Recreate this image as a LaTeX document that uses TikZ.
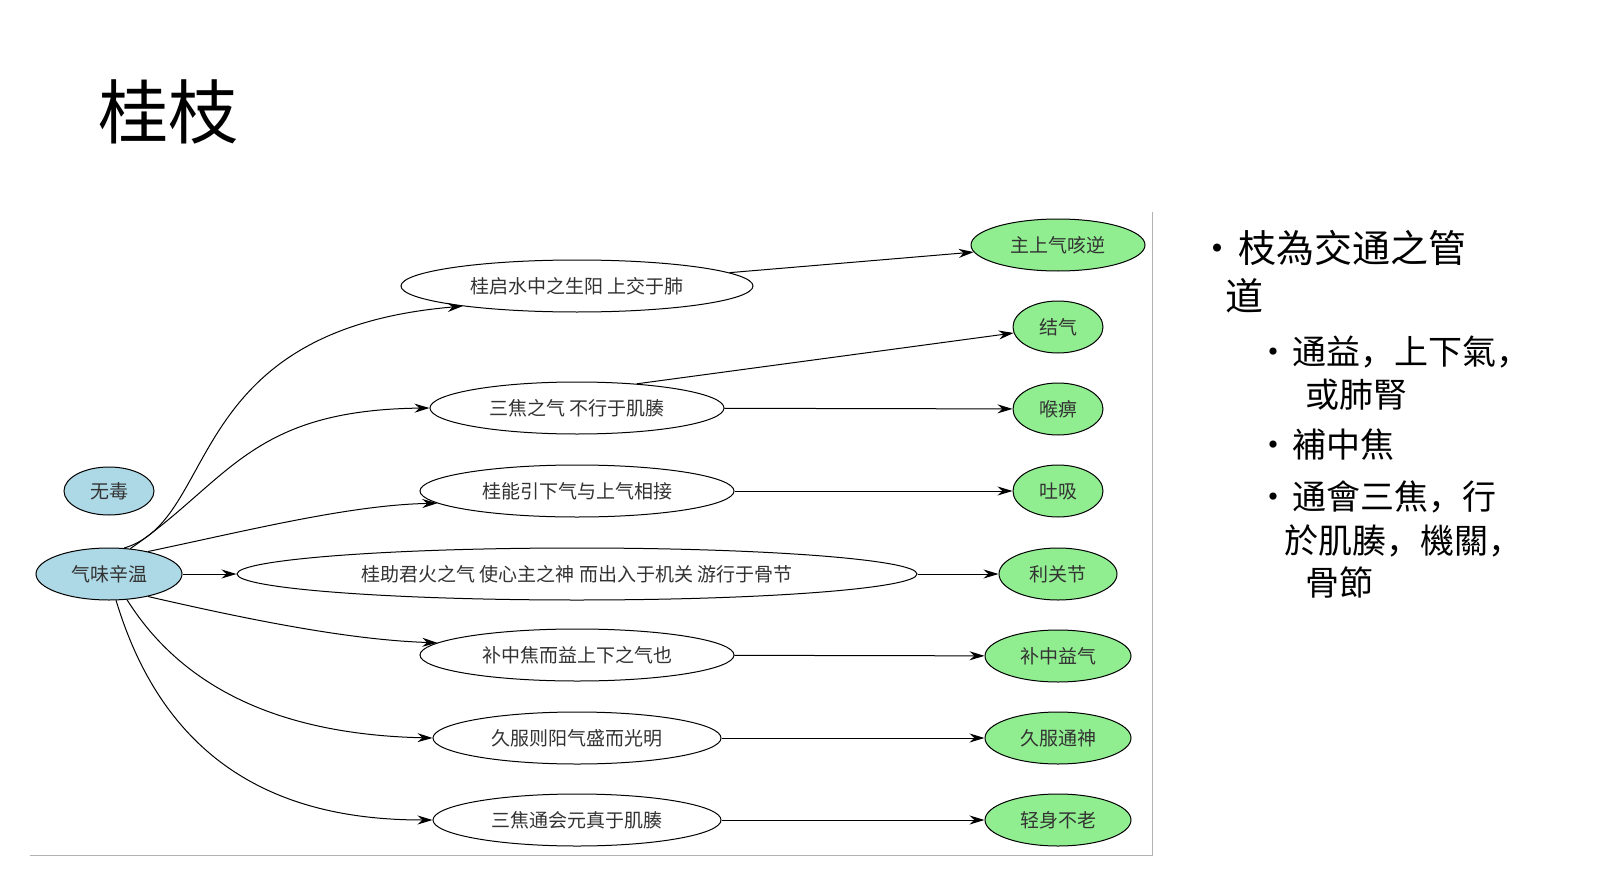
\documentclass[tikz,border=0pt]{standalone}
\usepackage{fontspec}
\setmainfont{Noto Sans CJK SC}
\usetikzlibrary{shapes.geometric,arrows.meta}
\begin{document}
\begin{tikzpicture}[x=1pt,y=-1pt,
 el/.style={ellipse,draw,line width=1pt,inner sep=0pt,font=\fontsize{19}{22}\selectfont,text=black!80},
 blue/.style={el,fill={rgb,255:red,173;green,216;blue,230}},
 green/.style={el,fill={rgb,255:red,144;green,238;blue,144}},
 mid/.style={el,fill=white},
 ar/.style={-{Stealth[length=15pt,width=9pt]},line width=1pt},
 bl/.style={anchor=west,font=\fontsize{38}{40}\selectfont,inner sep=0pt}]
\useasboundingbox (0,0) rectangle (1600,896);
\draw[gray!60,line width=1pt] (1152,212) coordinate (fa) -- (1152,855) coordinate (fb) -- (30,855) coordinate (fc);
\node[anchor=west,font=\fontsize{70}{80}\selectfont,inner sep=0pt] (title) at (98,112) {桂枝};
% left
\node[blue,minimum width=90,minimum height=48] (wd) at (109,491) {无毒};
\node[blue,minimum width=146,minimum height=52] (qw) at (109,574) {气味辛温};
% middle
\node[mid,minimum width=352,minimum height=52] (m1) at (577,286) {桂启水中之生阳 上交于肺};
\node[mid,minimum width=294,minimum height=52] (m2) at (577,408) {三焦之气 不行于肌腠};
\node[mid,minimum width=314,minimum height=52] (m3) at (577,491) {桂能引下气与上气相接};
\node[mid,minimum width=680,minimum height=52] (m4) at (577,574) {桂助君火之气 使心主之神 而出入于机关 游行于骨节};
\node[mid,minimum width=314,minimum height=52] (m5) at (577,655) {补中焦而益上下之气也};
\node[mid,minimum width=288,minimum height=52] (m6) at (577,738) {久服则阳气盛而光明};
\node[mid,minimum width=288,minimum height=52] (m7) at (577,820) {三焦通会元真于肌腠};
% right
\node[green,minimum width=174,minimum height=52] (r1) at (1058,245) {主上气咳逆};
\node[green,minimum width=90,minimum height=52] (r2) at (1058,327) {结气};
\node[green,minimum width=90,minimum height=52] (r3) at (1058,409) {喉痹};
\node[green,minimum width=90,minimum height=52] (r4) at (1058,491) {吐吸};
\node[green,minimum width=118,minimum height=52] (r5) at (1058,574) {利关节};
\node[green,minimum width=146,minimum height=52] (r6) at (1058,656) {补中益气};
\node[green,minimum width=146,minimum height=52] (r7) at (1058,738) {久服通神};
\node[green,minimum width=146,minimum height=52] (r8) at (1058,820) {轻身不老};
% edges from source
\draw[ar] (qw.60) .. controls (220,520) and (180,330) .. (m1.190);
\draw[ar] (qw.50) .. controls (230,480) and (250,410) .. (m2.180);
\draw[ar] (qw.30) .. controls (250,530) and (350,505) .. (m3.185);
\draw[ar] (qw) -- (m4);
\draw[ar] (qw.-30) .. controls (250,620) and (350,640) .. (m5.175);
\draw[ar] (qw.-55) .. controls (190,700) and (300,735) .. (m6.180);
\draw[ar] (qw.-75) .. controls (170,780) and (300,820) .. (m7.180);
% edges to results
\draw[ar] (m1.5) -- (r1);
\draw[ar] (m2.22) -- (r2);
\draw[ar] (m2) -- (r3);
\draw[ar] (m3) -- (r4);
\draw[ar] (m4) -- (r5);
\draw[ar] (m5) -- (r6);
\draw[ar] (m6) -- (r7);
\draw[ar] (m7) -- (r8);
% bullets
\node[bl] (b1) at (1198,248) {•\hspace{2pt}枝為交通之管};
\node[bl] (b1b) at (1225,296) {道};
\node[bl,font=\fontsize{34}{36}\selectfont] (b2) at (1256,352) {•\hspace{2pt}通益，上下氣，};
\node[bl,font=\fontsize{34}{36}\selectfont] (b2b) at (1305,395) {或肺腎};
\node[bl,font=\fontsize{34}{36}\selectfont] (b3) at (1256,445) {•\hspace{2pt}補中焦};
\node[bl,font=\fontsize{34}{36}\selectfont] (b4) at (1256,497) {•\hspace{2pt}通會三焦，行};
\node[bl,font=\fontsize{34}{36}\selectfont] (b4b) at (1284,541) {於肌腠，機關，};
\node[bl,font=\fontsize{34}{36}\selectfont] (b4c) at (1305,582) {骨節};
\end{tikzpicture}
\end{document}
